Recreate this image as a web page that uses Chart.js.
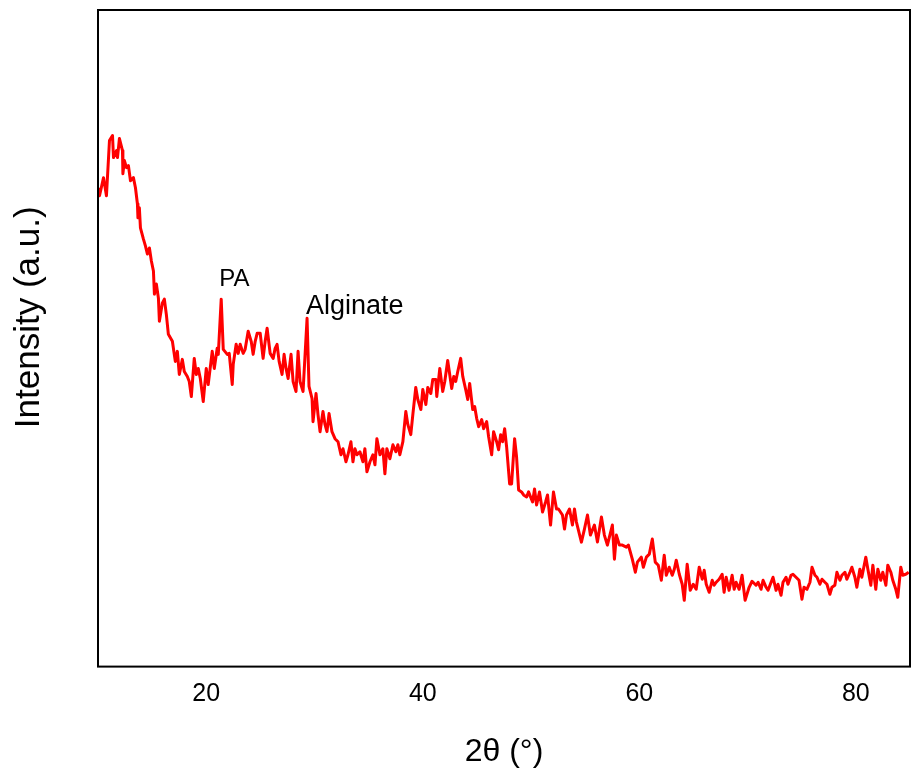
<!DOCTYPE html>
<html>
<head>
<meta charset="utf-8">
<title>XRD pattern</title>
<script src="https://cdn.jsdelivr.net/npm/chart.js@4.4.1/dist/chart.umd.min.js"></script>
<style>
    html, body { margin: 0; padding: 0; background: #fff; }
    #wrap { width: 911px; height: 773px; position: relative; }
</style>
</head>
<body>
<div id="wrap"><canvas id="xrdChart"></canvas></div>
<script>
(function () {
    'use strict';

    var twoTheta = [
        10.05, 10.14, 10.51, 10.78, 11.06, 11.34, 11.43, 11.71, 11.80, 11.98, 12.26, 12.30, 12.44, 12.63, 12.81, 13.00,
        13.27, 13.46, 13.64, 13.69, 13.82, 13.92, 14.19, 14.38, 14.56, 14.75, 14.93, 15.12, 15.21, 15.39, 15.58, 15.67,
        15.94, 16.13, 16.31, 16.50, 16.87, 17.14, 17.33, 17.51, 17.79, 17.97, 18.25, 18.43, 18.62, 18.89, 19.08, 19.26,
        19.45, 19.72, 20.00, 20.18, 20.55, 20.74, 21.01, 21.11, 21.38, 21.57, 21.94, 22.12, 22.40, 22.49, 22.76, 22.95,
        23.13, 23.41, 23.59, 23.87, 24.15, 24.33, 24.52, 24.70, 24.98, 25.25, 25.44, 25.62, 25.90, 26.18, 26.36, 26.54,
        26.73, 27.00, 27.19, 27.37, 27.56, 27.83, 28.02, 28.29, 28.48, 28.66, 28.94, 29.31, 29.49, 29.77, 29.86, 30.14,
        30.32, 30.51, 30.78, 30.97, 31.15, 31.34, 31.61, 31.89, 32.17, 32.44, 32.63, 32.90, 33.09, 33.36, 33.55, 33.73,
        33.92, 34.19, 34.47, 34.65, 34.84, 35.12, 35.39, 35.58, 35.76, 36.04, 36.31, 36.50, 36.68, 36.96, 37.24, 37.51,
        37.70, 37.88, 38.16, 38.43, 38.62, 38.89, 39.08, 39.35, 39.54, 39.82, 40.00, 40.28, 40.46, 40.74, 40.92, 41.20,
        41.29, 41.57, 41.84, 42.03, 42.30, 42.67, 42.86, 43.04, 43.23, 43.50, 43.69, 43.96, 44.15, 44.33, 44.61, 44.79,
        44.98, 45.16, 45.44, 45.62, 45.90, 46.08, 46.36, 46.54, 46.82, 47.00, 47.19, 47.37, 47.56, 47.74, 48.02, 48.20,
        48.48, 48.66, 48.85, 49.12, 49.31, 49.59, 49.77, 50.14, 50.32, 50.51, 50.78, 51.06, 51.34, 51.52, 51.80, 52.07,
        52.35, 52.53, 52.90, 53.09, 53.27, 53.55, 53.82, 54.01, 54.19, 54.65, 54.93, 55.21, 55.48, 55.85, 56.13, 56.50,
        56.77, 57.05, 57.51, 57.70, 57.88, 58.16, 58.43, 58.80, 58.99, 59.35, 59.63, 59.82, 60.18, 60.37, 60.65, 60.92,
        61.20, 61.47, 61.75, 62.03, 62.30, 62.49, 62.76, 63.04, 63.23, 63.41, 63.69, 63.96, 64.15, 64.42, 64.70, 64.98,
        65.25, 65.53, 65.81, 65.99, 66.18, 66.45, 66.73, 66.91, 67.10, 67.37, 67.65, 67.83, 68.02, 68.29, 68.57, 68.76,
        68.94, 69.22, 69.49, 69.77, 70.14, 70.41, 70.78, 70.97, 71.24, 71.43, 71.71, 71.89, 72.17, 72.35, 72.63, 72.81,
        73.09, 73.27, 73.55, 73.73, 74.01, 74.19, 74.47, 74.75, 75.02, 75.21, 75.48, 75.76, 75.95, 76.22, 76.41, 76.68,
        76.87, 77.14, 77.33, 77.60, 77.79, 78.06, 78.25, 78.53, 78.71, 78.99, 79.17, 79.45, 79.63, 79.91, 80.09, 80.37,
        80.55, 80.92, 81.11, 81.38, 81.57, 81.84, 82.03, 82.30, 82.49, 82.77, 82.95, 83.23, 83.41, 83.69, 83.87, 84.15,
        84.33, 84.61, 84.88
    ];

    var intensity = [
        477, 469, 487, 469, 524, 529, 507, 514, 507, 526, 514, 491, 504, 497, 499, 484,
        487, 477, 461, 447, 457, 437, 426, 419, 411, 417, 404, 394, 371, 381, 367, 344,
        362, 366, 351, 331, 324, 304, 314, 291, 306, 294, 289, 284, 269, 307, 291, 297,
        287, 264, 297, 281, 314, 297, 317, 311, 366, 316, 311, 312, 281, 301, 321, 312,
        321, 312, 316, 334, 324, 311, 324, 332, 332, 307, 324, 337, 312, 307, 317, 321,
        304, 291, 311, 297, 287, 311, 284, 274, 314, 284, 274, 347, 279, 267, 244, 272,
        251, 234, 254, 241, 234, 252, 234, 227, 224, 211, 217, 204, 211, 224, 204, 217,
        211, 214, 204, 217, 194, 204, 211, 201, 227, 211, 217, 192, 217, 207, 221, 214,
        221, 211, 224, 254, 241, 231, 251, 278, 266, 256, 276, 261, 278, 272, 286, 286,
        269, 297, 274, 284, 305, 277, 289, 284, 294, 307, 289, 276, 266, 282, 256, 259,
        247, 239, 246, 237, 244, 229, 211, 234, 224, 216, 231, 224, 237, 219, 182, 182,
        227, 209, 176, 174, 171, 169, 174, 164, 177, 161, 174, 154, 164, 171, 141, 174,
        157, 157, 151, 137, 151, 157, 141, 157, 144, 124, 137, 151, 131, 141, 124, 149,
        131, 121, 141, 107, 131, 121, 121, 119, 121, 107, 94, 104, 109, 99, 109, 112,
        127, 104, 101, 86, 111, 91, 99, 91, 97, 106, 92, 82, 66, 102, 76, 82,
        77, 99, 87, 96, 82, 74, 86, 81, 84, 87, 92, 74, 89, 76, 91, 77,
        84, 77, 91, 66, 79, 85, 81, 84, 77, 86, 79, 76, 84, 89, 76, 82,
        71, 84, 89, 82, 91, 92, 89, 86, 67, 79, 77, 84, 99, 91, 89, 82,
        87, 84, 82, 72, 79, 81, 94, 86, 91, 94, 87, 94, 99, 89, 79, 97,
        89, 109, 97, 81, 101, 77, 97, 86, 94, 81, 101, 94, 86, 77, 69, 99,
        91, 92, 94
    ];

    var xTicks = [20, 40, 60, 80];

    // peak labels: [text, 2theta, intensity, font size, dx, dy]
    var peakLabels = [
        ['PA', 21.38, 366, 24, -2, -13],
        ['Alginate', 29.31, 347, 27, -1, -4]
    ];

    var yTitle = 'Intensity (a.u.)';

    var points = twoTheta.map(function (t, i) { return { x: t, y: intensity[i] }; });

    var framePlugin = {
        id: 'frame',
        afterDatasetsDraw: function (chart) {
            var a = chart.chartArea;
            var ctx = chart.ctx;
            ctx.save();
            ctx.strokeStyle = '#000';
            ctx.lineWidth = 2;
            ctx.strokeRect(a.left, a.top, a.right - a.left, a.bottom - a.top);

            var xs = chart.scales.x;
            var ys = chart.scales.y;
            ctx.fillStyle = '#000';
            ctx.textAlign = 'left';
            ctx.textBaseline = 'alphabetic';
            peakLabels.forEach(function (p) {
                ctx.font = p[3] + 'px "Liberation Sans", Arial, sans-serif';
                ctx.fillText(p[0], xs.getPixelForValue(p[1]) + p[4], ys.getPixelForValue(p[2]) + p[5]);
            });

            // y title sits a little above the plot's middle, as in the source figure
            ctx.font = '35px "Liberation Sans", Arial, sans-serif';
            ctx.textAlign = 'center';
            ctx.textBaseline = 'middle';
            ctx.translate(29, (a.top + a.bottom) / 2 - 21);
            ctx.rotate(-Math.PI / 2);
            ctx.fillText(yTitle, 0, 0);
            ctx.restore();
        }
    };

    new Chart(document.getElementById('xrdChart').getContext('2d'), {
        type: 'line',
        data: {
            datasets: [{
                data: points,
                borderColor: '#ff0000',
                borderWidth: 3,
                borderJoinStyle: 'round',
                pointRadius: 0,
                tension: 0,
                fill: false
            }]
        },
        options: {
            responsive: true,
            maintainAspectRatio: false,
            animation: false,
            layout: { padding: { left: 98, right: 1, top: 10, bottom: 0 } },
            plugins: {
                legend: { display: false },
                tooltip: { enabled: false }
            },
            scales: {
                x: {
                    type: 'linear',
                    min: 10,
                    max: 85,
                    afterBuildTicks: function (scale) {
                        scale.ticks = xTicks.map(function (v) { return { value: v }; });
                    },
                    grid: { display: false, drawTicks: false },
                    border: { display: false },
                    ticks: {
                        padding: 13,
                        color: '#000',
                        maxRotation: 0,
                        font: { family: '"Liberation Sans", Arial, sans-serif', size: 25 }
                    },
                    title: {
                        display: true,
                        text: '2θ (°)',
                        color: '#000',
                        padding: { top: 10, bottom: 2 },
                        font: { family: '"Liberation Sans", Arial, sans-serif', size: 32 }
                    }
                },
                y: {
                    display: false,
                    min: 0,
                    max: 654
                }
            }
        },
        plugins: [framePlugin]
    });
}());
</script>
</body>
</html>
